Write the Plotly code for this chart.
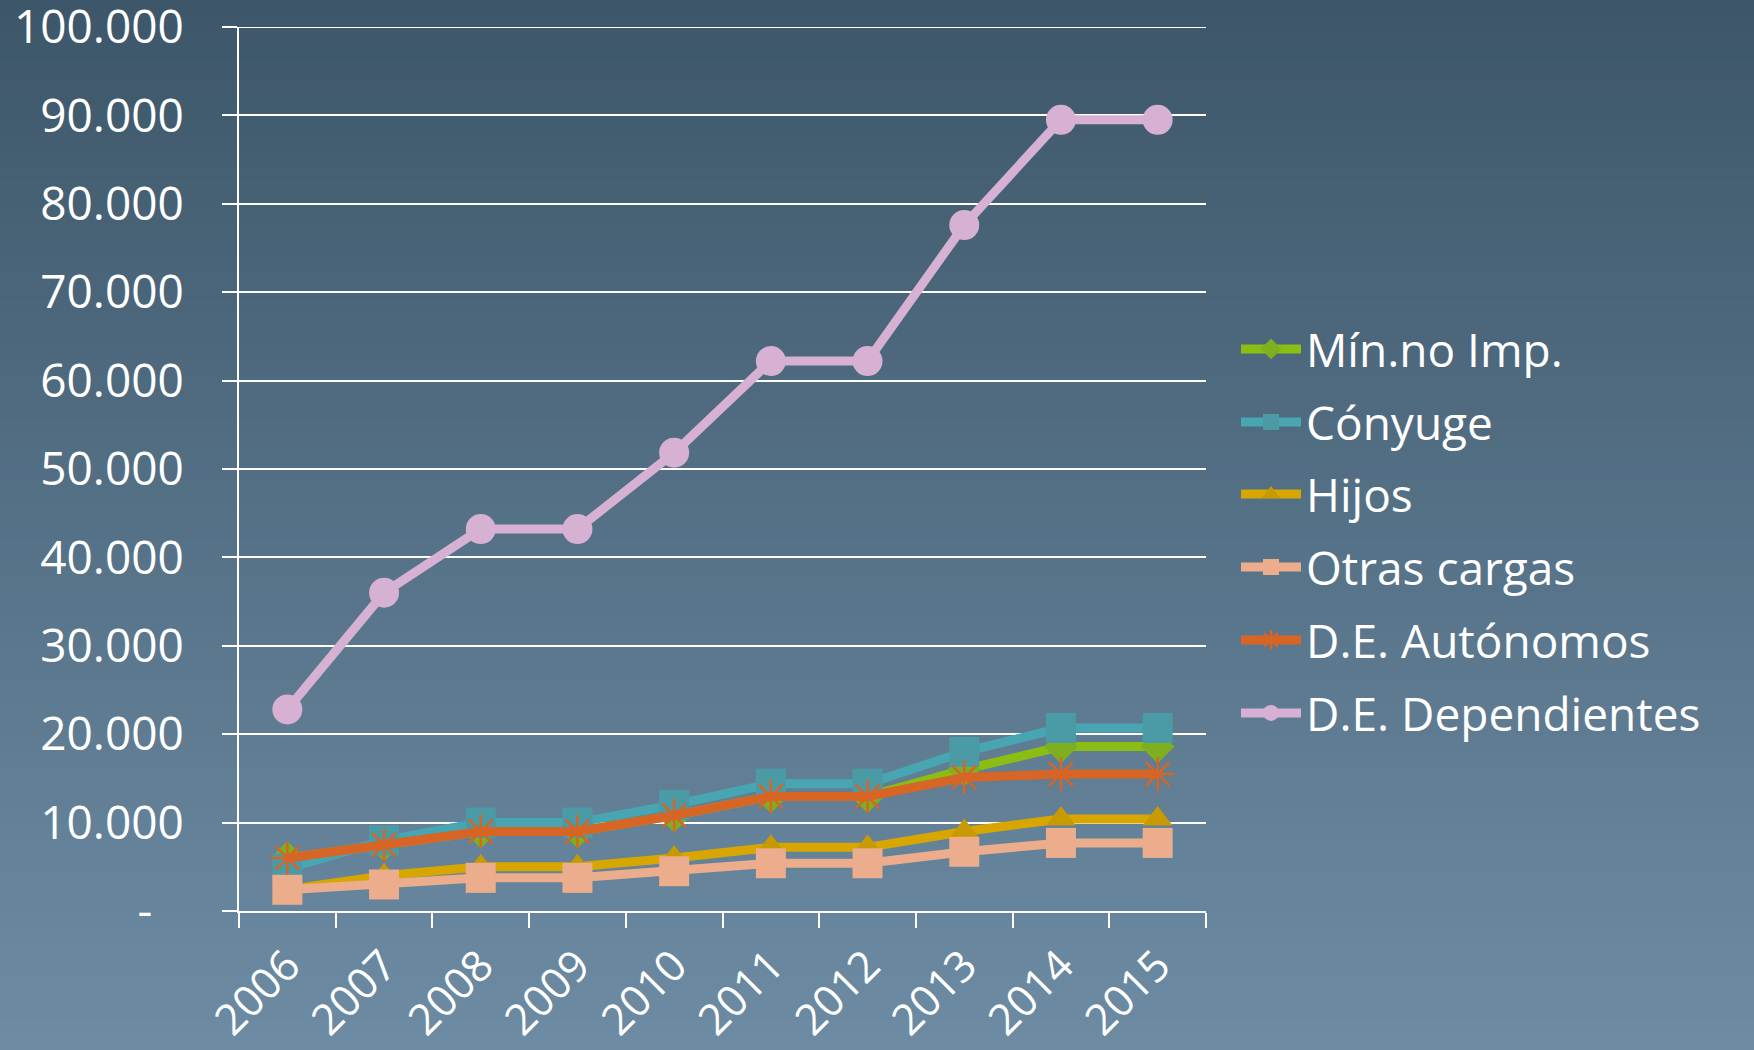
import plotly.graph_objects as go

years = ["2006", "2007", "2008", "2009", "2010", "2011", "2012", "2013", "2014", "2015"]

min_no_imp = [6000, 7500, 9000, 9000, 10800, 12960, 12960, 16000, 18600, 18600]
conyuge = [4800, 8000, 10000, 10000, 12000, 14400, 14400, 18000, 20700, 20700]
hijos = [2400, 4000, 5000, 5000, 6000, 7200, 7200, 9000, 10400, 10400]
otras_cargas = [2400, 3000, 3750, 3750, 4500, 5400, 5400, 6700, 7700, 7700]
de_autonomos = [6000, 7500, 9000, 9000, 10800, 12960, 12960, 15100, 15500, 15500]
de_dependientes = [22800, 36000, 43200, 43200, 51840, 62208, 62208, 77600, 89500, 89500]

series_names = ["Mín.no Imp.", "Cónyuge", "Hijos", "Otras cargas", "D.E. Autónomos", "D.E. Dependientes"]

y_tickvals = [0, 10000, 20000, 30000, 40000, 50000, 60000, 70000, 80000, 90000, 100000]
y_ticktext = ["-\u00a0\u00a0\u2009", "10.000", "20.000", "30.000", "40.000", "50.000",
              "60.000", "70.000", "80.000", "90.000", "100.000"]

FONT = "Open Sans"
FS = 46
FS_X = 43

styles = [
    dict(line="#8bbd13", marker="#7fae1e", symbol="diamond", size=26, mline=0),
    dict(line="#47a6b2", marker="#4b9ba6", symbol="square", size=30, mline=0),
    dict(line="#d8a600", marker="#c89a00", symbol="triangle-up", size=26, mline=0),
    dict(line="#ebad8c", marker="#ebad8c", symbol="square", size=30, mline=0),
    dict(line="#d66526", marker="#d66526", symbol="asterisk-open", size=28, mline=2.5),
    dict(line="#d6b1d3", marker="#d6b1d3", symbol="circle", size=30, mline=0),
]
data = [min_no_imp, conyuge, hijos, otras_cargas, de_autonomos, de_dependientes]

fig = go.Figure()
legend_ids = ["legend", "legend2", "legend3", "legend4", "legend5", "legend6"]
for name, vals, st, lg in zip(series_names, data, styles, legend_ids):
    mk = dict(color=st["marker"], symbol=st["symbol"], size=st["size"])
    if st["mline"]:
        mk["line"] = dict(color=st["marker"], width=st["mline"])
    else:
        mk["line"] = dict(width=0)
    fig.add_trace(go.Scatter(
        x=years, y=vals, name=name, mode="lines+markers",
        line=dict(color=st["line"], width=9),
        marker=mk, legend=lg,
    ))

# background vertical gradient
W, H = 1754, 1050
L, R, T, B = 239, 1206, 27, 911
top_c = (0x3d, 0x56, 0x69)
bot_c = (0x6d, 0x8c, 0xa4)
shapes = []
N = 70
for i in range(N):
    y0 = H * i / N
    y1 = H * (i + 1) / N + 1
    f = (i + 0.5) / N
    c = tuple(round(top_c[k] + (bot_c[k] - top_c[k]) * f) for k in range(3))
    shapes.append(dict(
        type="rect", xref="paper", yref="paper", layer="below",
        x0=(0 - L) / (R - L), x1=(W - L) / (R - L),
        y0=(B - y1) / (B - T), y1=(B - y0) / (B - T),
        fillcolor="rgb(%d,%d,%d)" % c, line=dict(width=0),
    ))
# top gridline (plotly drops gridlines lying on the plot edge)
shapes.append(dict(type="line", xref="paper", yref="y", layer="below",
                   x0=0, x1=1, y0=y_tickvals[-1], y1=y_tickvals[-1],
                   line=dict(color="white", width=2)))

leg_centers = [349, 422, 494, 567, 640, 713]
layout_legends = {}
for lg, yc in zip(legend_ids, leg_centers):
    layout_legends[lg] = dict(
        x=(1236 - L) / (R - L), y=(B - yc) / (B - T), xanchor="left", yanchor="middle",
        bgcolor="rgba(0,0,0,0)", font=dict(family=FONT, size=FS, color="white"),
        itemwidth=60, itemsizing="trace",
    )

fig.update_layout(
    width=W, height=H,
    margin=dict(l=L, r=W - R, t=T, b=H - B, pad=0, autoexpand=False),
    paper_bgcolor="#55728a", plot_bgcolor="rgba(0,0,0,0)",
    shapes=shapes,
    font=dict(family=FONT, color="white", size=FS),
    showlegend=True,
    **layout_legends,
)
fig.update_xaxes(
    type="category", showgrid=False, showline=True, linecolor="white", linewidth=2,
    ticks="outside", tickson="boundaries", ticklen=15, tickcolor="white", tickwidth=2,
    tickangle=-45, tickfont=dict(family=FONT, size=FS_X, color="white"),
    ticklabelstandoff=10, automargin=False, ticklabeloverflow="allow",
    range=[-0.5, 9.5], zeroline=False,
)
fig.update_yaxes(
    range=[0, 100000], tickvals=y_tickvals, ticktext=y_ticktext,
    showgrid=True, gridcolor="white", gridwidth=2,
    showline=True, linecolor="white", linewidth=2,
    ticks="outside", ticklen=15, tickcolor="white", tickwidth=2,
    tickfont=dict(family=FONT, size=FS, color="white"),
    ticklabelstandoff=29, automargin=False, ticklabeloverflow="allow",
    zeroline=False,
)

fig.write_html("out.html", config={"displayModeBar": False})

with open("out.html", "r", encoding="utf-8") as fh:
    html = fh.read()
html = html.replace("<body>", '<body style="margin:0;padding:0;overflow:hidden">', 1)
with open("out.html", "w", encoding="utf-8") as fh:
    fh.write(html)
